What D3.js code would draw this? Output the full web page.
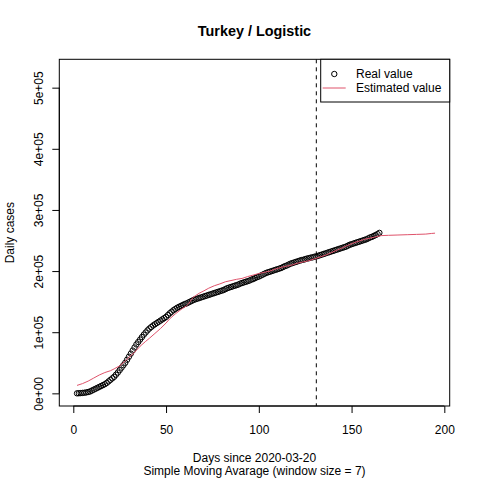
<!DOCTYPE html>
<html><head><meta charset="utf-8">
<script src="https://cdn.jsdelivr.net/npm/d3@7"></script>
<style>body{margin:0;background:#fff}svg{display:block}text{font-family:"Liberation Sans",Arial,sans-serif}</style>
</head><body>
<script>
// Real values (7-day SMA of cases), one per day starting at day 2, in thousands
const realStartDay = 2;
const realValues = [
 0,0.2,0.4,0.7,1.0,1.5,2.2,3,4.5,6,7.5,9,10.5,12,13.5,15,17,19.5,22,24.5,
 27,30.5,34,38,42,46,50,55,60,65,70,75,80,84,88,92,96,99.5,103,106,
 108.5,111,113,115,117,119,121,123,125,128,131,133.5,136,138,140,141.5,143,144.5,146,147,
 148.5,150,151.5,153,154,155,156,157,158,159,160,161,162,163,164,165,166,167,168,169,
 170.5,172,173,174,175,176,177,178,179.5,180.5,181.5,182.5,183.5,184.5,186,187,188.5,190,191,192.5,
 194,195.5,197,198,199,200,201,202,203,204,205,206.5,208,209,210.5,212,213,214,215,216,
 217,218,218.5,219.5,220.5,221,222,222.5,223.5,224,225,226,227,228,229,230,231,232,233,234,
 235,236,237,238,239,240,241.5,243,244,245,246,247,248,249,250,251,252,253.5,255,256,
 257.5,259,260.5,262.5
];
// Estimated (logistic) curve, read at these days, in thousands
const estDays = [2,5,8,11,14,17,20,22,25,28,30,33,36,39,41,44,47,50,52,55,58,61,62,63,64,65,66,68,70,73,76,79,82,85,88,91,94,97,100,103,106,109,112,115,118,121,124,127,130,133,136,139,142,145,148,151,154,157,160,163,166,170,175,180,185,190,193,195];
const estValues = [13,16,20,25,30,34,37,40,45,53,59,67,77,85,90,98,106,115,122,130,137,143,146,150,155,158,160,164,167,172,176,179,182.5,184.5,186.5,188,191,193.5,196,198,200,203.5,206,208,210,213,215,217,220,223,226,230,234,238,242,246,249,252,254,256,258,258.5,259,259.5,260,260.5,261.5,262];
const cutDay = 131;
const xTicks = [0,50,100,150,200];
const yTicks = [0,100000,200000,300000,400000,500000];
const yTickLabels = ["0e+00","1e+05","2e+05","3e+05","4e+05","5e+05"];
const title = "Turkey / Logistic";
const xLabel = "Days since 2020-03-20";
const subLabel = "Simple Moving Avarage (window size = 7)";
const yLabel = "Daily cases";
const legendLabels = ["Real value","Estimated value"];
const red = "#DF536B";

const W=480,H=480;
const L=59.3,R=449.7,T=59.3,B=406;
const svg=d3.select("body").append("svg").attr("width",W).attr("height",H);
const x=d3.scaleLinear().domain([-7.55,202.9]).range([L,R]);
const y=d3.scaleLinear().domain([-20700,546400]).range([B,T]);

const real = realValues.map((v,i)=>({d:realStartDay+i,v:v*1000}));
const est = estDays.map((d,i)=>({d,v:estValues[i]*1000}));

svg.append("clipPath").attr("id","c").append("rect").attr("x",L).attr("y",T).attr("width",R-L).attr("height",B-T);
const g=svg.append("g").attr("clip-path","url(#c)");

g.selectAll("circle.pt").data(real).enter().append("circle")
 .attr("cx",d=>x(d.d)).attr("cy",d=>y(d.v)).attr("r",2.7)
 .attr("fill","none").attr("stroke","#000").attr("stroke-width",1);

g.append("path").datum(est).attr("d",d3.line().x(d=>x(d.d)).y(d=>y(d.v)))
 .attr("fill","none").attr("stroke",red).attr("stroke-width",1);

g.append("line").attr("x1",x(cutDay)).attr("x2",x(cutDay)).attr("y1",T).attr("y2",B)
 .attr("stroke","#000").attr("stroke-width",1).attr("stroke-dasharray","4,4");

svg.append("rect").attr("x",L).attr("y",T).attr("width",R-L).attr("height",B-T)
 .attr("fill","none").attr("stroke","#000").attr("stroke-width",1);

const xa=svg.append("g").attr("transform",`translate(0,${B})`)
 .call(d3.axisBottom(x).tickValues(xTicks).tickSize(7).tickSizeOuter(0).tickPadding(12));
xa.select(".domain").attr("d",`M${x(xTicks[0])},0H${x(xTicks[xTicks.length-1])}`).attr("stroke","#000");
xa.selectAll("text").attr("font-size",12).attr("fill","#000").attr("font-family","Liberation Sans, Arial, sans-serif");
xa.selectAll("line").attr("stroke","#000");

const ya=svg.append("g").attr("transform",`translate(${L},0)`)
 .call(d3.axisLeft(y).tickValues(yTicks).tickFormat((d,i)=>yTickLabels[i]).tickSize(7).tickSizeOuter(0));
ya.select(".domain").attr("d",`M0,${y(yTicks[0])}V${y(yTicks[yTicks.length-1])}`).attr("stroke","#000");
ya.selectAll("line").attr("stroke","#000");
ya.selectAll("text").attr("font-size",12).attr("fill","#000").attr("font-family","Liberation Sans, Arial, sans-serif")
 .attr("text-anchor","middle").attr("dy",0).attr("x",0).attr("y",0)
 .attr("transform",`translate(${42.7-L},0) rotate(-90)`);

svg.append("text").attr("x",(L+R)/2).attr("y",36).attr("text-anchor","middle")
 .attr("font-size",14.4).attr("font-weight","bold").text(title);
svg.append("text").attr("x",(L+R)/2).attr("y",462).attr("text-anchor","middle").attr("font-size",12).text(xLabel);
svg.append("text").attr("x",(L+R)/2).attr("y",475).attr("text-anchor","middle").attr("font-size",12).text(subLabel);
svg.append("text").attr("transform",`translate(13.5,${(T+B)/2}) rotate(-90)`).attr("text-anchor","middle").attr("font-size",12).text(yLabel);

const lg=svg.append("g");
lg.append("rect").attr("x",320.7).attr("y",T).attr("width",R-320.7).attr("height",102-T)
 .attr("fill","#fff").attr("stroke","#000").attr("stroke-width",1);
lg.append("circle").attr("cx",334.3).attr("cy",74).attr("r",2.7).attr("fill","none").attr("stroke","#000");
lg.append("line").attr("x1",322.7).attr("x2",345.7).attr("y1",88).attr("y2",88).attr("stroke",red);
lg.append("text").attr("x",356).attr("y",78.3).attr("font-size",12).text(legendLabels[0]);
lg.append("text").attr("x",356).attr("y",92.3).attr("font-size",12).text(legendLabels[1]);
</script>
</body></html>
